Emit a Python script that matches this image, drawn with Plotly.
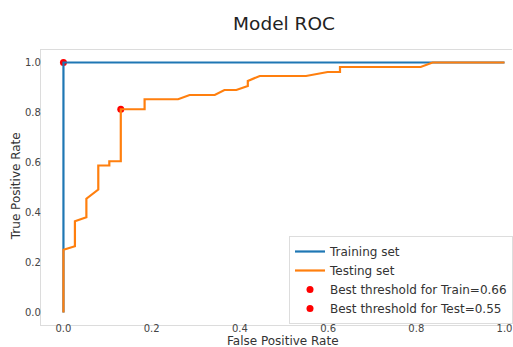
import plotly.graph_objects as go

# Data
train_fpr = [0.0, 0.0, 1.0]
train_tpr = [0.0, 1.0, 1.0]

test_fpr = [0.0, 0.0, 0.026, 0.026, 0.052, 0.052, 0.079, 0.079, 0.104, 0.104, 0.130, 0.130,
            0.184, 0.184, 0.260, 0.286, 0.343, 0.365, 0.392, 0.418, 0.418, 0.445, 0.550,
            0.599, 0.627, 0.627, 0.810, 0.837, 1.0]
test_tpr = [0.0, 0.251, 0.265, 0.365, 0.381, 0.455, 0.492, 0.588, 0.588, 0.605, 0.605, 0.813,
            0.813, 0.853, 0.853, 0.870, 0.870, 0.890, 0.890, 0.906, 0.926, 0.946, 0.946,
            0.962, 0.962, 0.982, 0.982, 1.0, 1.0]

best_train = (0.0, 1.0)
best_test = (0.130, 0.813)
train_thr = 0.66
test_thr = 0.55

x_ticks = [0.0, 0.2, 0.4, 0.6, 0.8, 1.0]
y_ticks = [0.0, 0.2, 0.4, 0.6, 0.8, 1.0]

FONT = "DejaVu Sans"
W, H = 513, 347
L, R, T, B = 41, 0, 50, 22

fig = go.Figure()
fig.add_trace(go.Scatter(x=[best_train[0]], y=[best_train[1]], mode="markers",
                         marker=dict(color="red", size=7),
                         name=f"Best threshold for Train={train_thr}", legendrank=3))
fig.add_trace(go.Scatter(x=[best_test[0]], y=[best_test[1]], mode="markers",
                         marker=dict(color="red", size=7),
                         name=f"Best threshold for Test={test_thr}", legendrank=4))
fig.add_trace(go.Scatter(x=train_fpr, y=train_tpr, mode="lines",
                         line=dict(color="#1f77b4", width=2.2),
                         name="Training set", legendrank=1))
fig.add_trace(go.Scatter(x=test_fpr, y=test_tpr, mode="lines",
                         line=dict(color="#ff7f0e", width=2.2),
                         name="Testing set", legendrank=2))

pw = W - L - R
ph = H - T - B

fig.update_layout(
    width=W, height=H,
    margin=dict(l=L, r=R, t=T, b=B),
    paper_bgcolor="white", plot_bgcolor="white",
    font=dict(family=FONT, color="#333333"),
    title=dict(text="Model ROC", x=284 / W, xref="container", xanchor="center",
               y=1 - 23.5 / H, yref="container", yanchor="middle",
               font=dict(size=18.5, color="#222222", family=FONT)),
    showlegend=True,
    legend=dict(x=(289.5 - L) / pw, y=(325 - 236) / ph, xanchor="left", yanchor="top",
                bgcolor="rgba(255,255,255,0.85)", bordercolor="#dddddd", borderwidth=1,
                font=dict(size=12, color="#333333", family=FONT)),
    xaxis=dict(range=[-0.0509, 1.017], tickvals=x_ticks, tickformat=".1f",
               showgrid=False, zeroline=False, showline=True, mirror=True,
               linecolor="#dcdcdc", linewidth=1.3, ticks="", ticklen=0,
               ticklabelstandoff=-6,
               tickfont=dict(size=10, color="#444444")),
    yaxis=dict(range=[-0.05, 1.05], tickvals=y_ticks, tickformat=".1f",
               showgrid=False, zeroline=False, showline=True,
               linecolor="#dcdcdc", linewidth=1.3, ticks="", ticklen=0,
               ticklabelstandoff=-3,
               tickfont=dict(size=10, color="#444444")),
    annotations=[
        dict(text="False Positive Rate", xref="paper", yref="paper",
             x=(283.5 - L) / pw, y=0, yshift=-15.5, xanchor="center", yanchor="middle",
             showarrow=False, font=dict(size=12, color="#333333", family=FONT)),
        dict(text="True Positive Rate", xref="paper", yref="paper",
             x=0, xshift=15.5 - L, y=(325 - 186.7) / ph, xanchor="center", yanchor="middle",
             textangle=-90, showarrow=False, font=dict(size=12, color="#333333", family=FONT)),
    ],
)

fig.write_html("out.html")
